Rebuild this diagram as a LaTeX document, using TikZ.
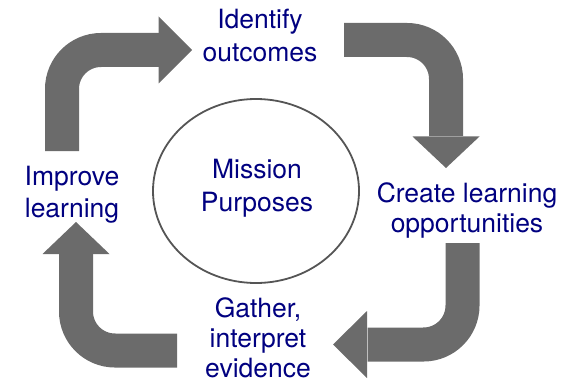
\documentclass[tikz,border=0pt]{standalone}
\usepackage{fontspec}
\setmainfont{TeX Gyre Heros}
\definecolor{navytext}{RGB}{0,0,128}
\definecolor{arrowgray}{RGB}{107,107,107}
\definecolor{ringgray}{RGB}{85,85,85}
\begin{document}
\begin{tikzpicture}[x=1pt,y=-1pt,
  stagelabel/.style={text=navytext, font=\fontsize{26.5}{#1}\selectfont,
    align=center, inner sep=0pt, anchor=base},
  stagelabel/.default=32,
  shaft/.style={draw=arrowgray, line width=34pt, rounded corners=39pt},
  arrowhead/.style={fill=arrowgray}]
\useasboundingbox (0,0) rectangle (569,382);

% central mission ellipse (labels are anchored at their last baseline)
\draw[ringgray, line width=1.8pt] (256,191) ellipse [x radius=103pt, y radius=92pt];
\node[stagelabel=33] (mission) at (257,211) {Mission\\Purposes};

% the four stages of the cycle
\node[stagelabel=33] (identify) at (260,62)  {Identify\\outcomes};
\node[stagelabel=30] (create)   at (467,232) {Create learning\\opportunities};
\node[stagelabel=30] (gather)   at (258,377) {Gather,\\interpret\\evidence};
\node[stagelabel=32] (improve)  at (72,217)  {Improve\\learning};

% shaft ends (start, head base) and arrow tips
\coordinate (a1s) at (62,151);  \coordinate (a1b) at (158.5,50); \coordinate (a1t) at (192,50);
\coordinate (a2s) at (344,40);  \coordinate (a2b) at (446,136.5); \coordinate (a2t) at (446,168);
\coordinate (a3s) at (462.5,243); \coordinate (a3b) at (367,344.5); \coordinate (a3t) at (333,344.5);
\coordinate (a4s) at (177,350.5); \coordinate (a4b) at (76,254); \coordinate (a4t) at (76,222);

% Improve -> Identify
\draw[shaft] (a1s) |- ([xshift=0.5pt]a1b);
\fill[arrowhead] ([yshift=-33.5pt]a1b) -- (a1t) -- ([yshift=33.5pt]a1b) -- cycle;
% Identify -> Create
\draw[shaft] (a2s) -| ([yshift=0.5pt]a2b);
\fill[arrowhead] ([xshift=-33.5pt]a2b) -- (a2t) -- ([xshift=33.5pt]a2b) -- cycle;
% Create -> Gather
\draw[shaft] (a3s) |- ([xshift=0.5pt]a3b);
\fill[arrowhead] ([yshift=-33.5pt]a3b) -- (a3t) -- ([yshift=33.5pt]a3b) -- cycle;
% Gather -> Improve
\draw[shaft] (a4s) -| ([yshift=0.5pt]a4b);
\fill[arrowhead] ([xshift=-33.5pt]a4b) -- (a4t) -- ([xshift=33.5pt]a4b) -- cycle;
\end{tikzpicture}
\end{document}
